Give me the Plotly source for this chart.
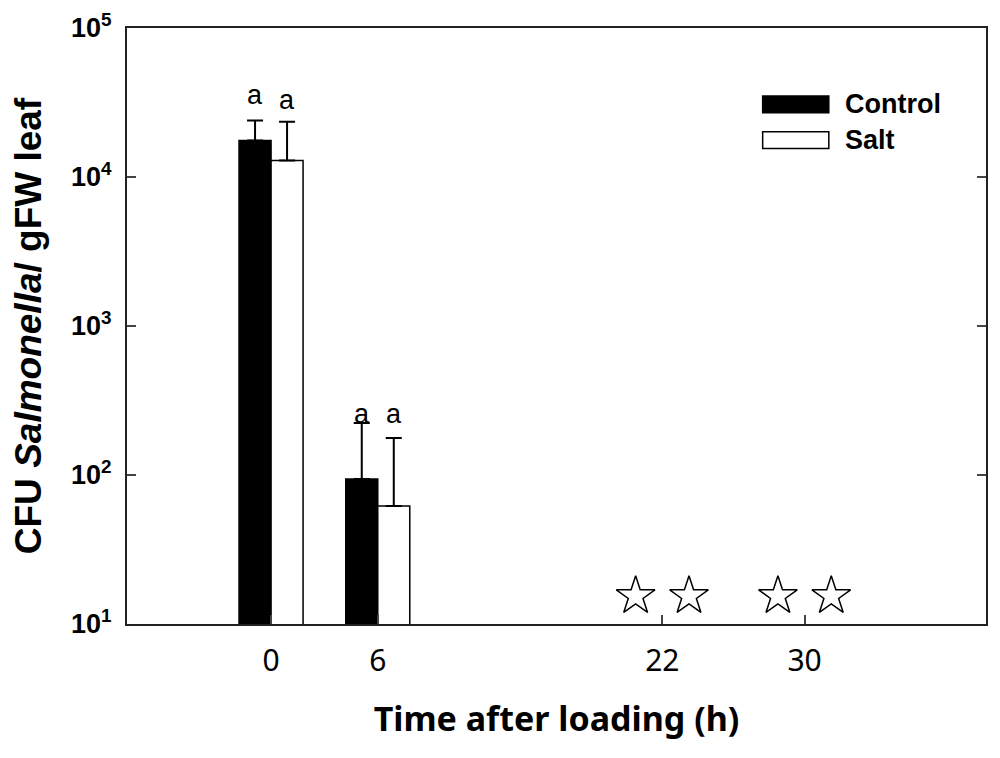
import numpy as np
import plotly.graph_objects as go

### Data ------------------------------------------------------
times = [0, 6]
control = [17600, 94]
salt = [12900, 62]
control_err_top = [23900, 223]
salt_err_top = [23500, 177]

# samples below detection limit (stars)
star_times = [22, 30]
star_level = 15.4

# significance letters
control_letters = ['a', 'a']
salt_letters = ['a', 'a']
control_letter_y = [35700, 256]
salt_letter_y = [33000, 256]

x_ticks = [0, 6, 22, 30]
y_ticks = [10, 100, 1000, 10000, 100000]
y_ticktext = ['<b>10<sup>%d</sup></b>' % int(np.log10(v)) for v in y_ticks]

bar_w = 1.8
star_off = 1.5

### Figure ----------------------------------------------------
fig = go.Figure()

fig.add_trace(go.Bar(
    x=times, y=control, width=bar_w, offset=-bar_w, name='Control',
    marker=dict(color='black', line=dict(color='black', width=1.5)),
    error_y=dict(type='data', symmetric=False,
                 array=[t - v for t, v in zip(control_err_top, control)],
                 arrayminus=[0, 0], color='black', thickness=2, width=8)))

fig.add_trace(go.Bar(
    x=times, y=salt, width=bar_w, offset=0, name='Salt',
    marker=dict(color='white', line=dict(color='black', width=1.5)),
    error_y=dict(type='data', symmetric=False,
                 array=[t - v for t, v in zip(salt_err_top, salt)],
                 arrayminus=[0, 0], color='black', thickness=2, width=8)))

star_x = []
for t in star_times:
    star_x += [t - star_off, t + star_off]
fig.add_trace(go.Scatter(
    x=star_x, y=[star_level] * len(star_x), mode='markers',
    marker=dict(symbol='star-open', size=29, color='black', line=dict(width=1.5)),
    showlegend=False))

# letters above the bars
for i, t in enumerate(times):
    fig.add_annotation(x=t - bar_w / 2, y=np.log10(control_letter_y[i]), text=control_letters[i],
                       showarrow=False, yanchor='middle',
                       font=dict(family='Liberation Sans', size=27, color='black'))
    fig.add_annotation(x=t + bar_w / 2, y=np.log10(salt_letter_y[i]), text=salt_letters[i],
                       showarrow=False, yanchor='middle',
                       font=dict(family='Liberation Sans', size=27, color='black'))

# hand drawn legend (big boxes like the original)
legend_items = [('Control', 'black', 0.872), ('Salt', 'white', 0.812)]
for name, col, yc in legend_items:
    fig.add_shape(type='rect', xref='paper', yref='paper',
                  x0=0.740, x1=0.817, y0=yc - 0.014, y1=yc + 0.014,
                  fillcolor=col, line=dict(color='black', width=1.5))
    fig.add_annotation(xref='paper', yref='paper', x=0.834, y=yc, xanchor='left', yanchor='middle',
                       text='<b>%s</b>' % name, showarrow=False,
                       font=dict(family='Liberation Sans', size=27, color='black'))

# page body has an 8px margin, so the figure is a bit smaller than the window
fig.update_layout(
    width=984, height=742,
    margin=dict(l=119, r=6, t=20, b=126),
    plot_bgcolor='white', paper_bgcolor='white',
    barmode='overlay', showlegend=False,
    xaxis=dict(range=[-8.1, 40.2], tickvals=x_ticks, ticks='inside', ticklen=9, tickwidth=2,
               showline=True, linewidth=2, linecolor='#222', mirror=True, showgrid=False,
               zeroline=False, ticklabelstandoff=9, automargin=False,
               tickfont=dict(family='Noto Sans', size=30, color='black'),
               title=dict(text='<b>Time after loading (h)</b>', standoff=28,
                          font=dict(family='Noto Sans', size=34, color='black'))),
    yaxis=dict(type='log', range=[1, 5], tickvals=y_ticks, ticktext=y_ticktext,
               ticks='inside', ticklen=9, tickwidth=2,
               showline=True, linewidth=2, linecolor='#222', mirror='ticks', showgrid=False,
               zeroline=False, ticklabelstandoff=8, ticklabeloverflow='allow', automargin=False,
               tickfont=dict(family='Liberation Sans', size=27, color='black'),
               title=dict(text='<b>CFU <i>Salmonella</i>/ gFW leaf</b>', standoff=18,
                          font=dict(family='Liberation Sans', size=37, color='black'))),
)

fig.write_html("out.html")
